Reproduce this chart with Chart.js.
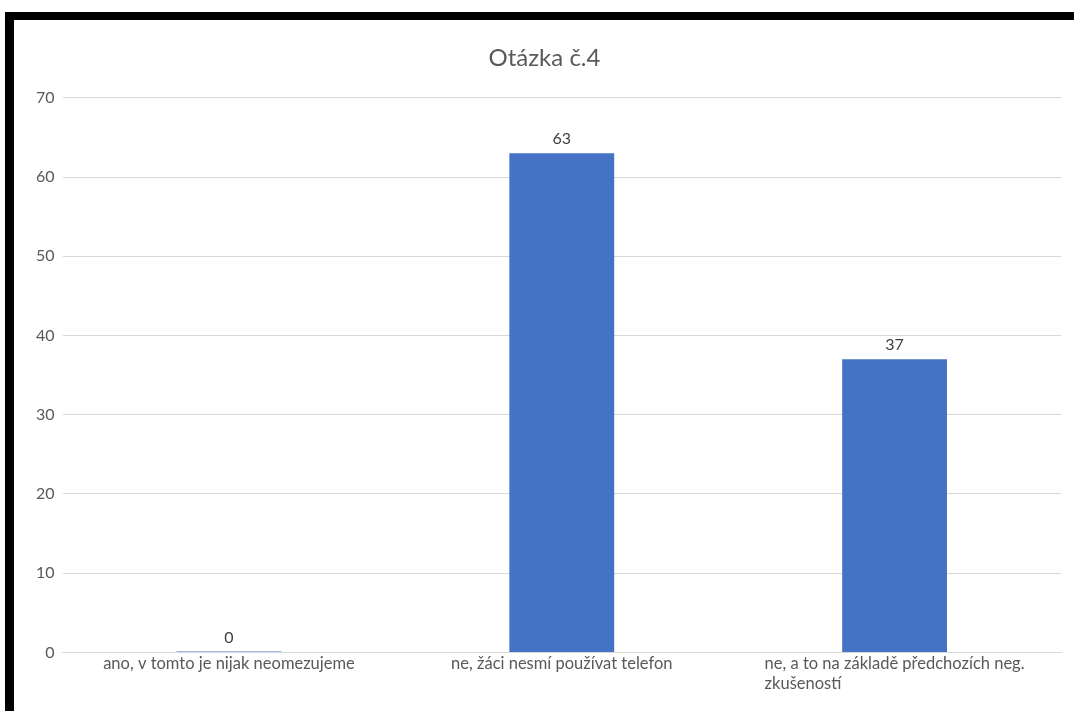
<!DOCTYPE html>
<html>
<head>
<meta charset="utf-8">
<script src="https://cdn.jsdelivr.net/npm/chart.js@4"></script>
<style>
html,body{margin:0;padding:0;background:#fff;width:1074px;height:711px;overflow:hidden;}
#topbar{position:absolute;left:5px;top:12px;width:1069px;height:8px;background:#000;}
#leftbar{position:absolute;left:5px;top:12px;width:9px;height:699px;background:#000;}
#wrap{position:absolute;left:14px;top:20px;width:1060px;height:691px;}
</style>
</head>
<body>
<div id="topbar"></div>
<div id="leftbar"></div>
<div id="wrap"><canvas id="c"></canvas></div>
<script>
const titleText = "Otázka č.4";
const categories = [
  "ano, v tomto je nijak neomezujeme",
  "ne, žáci nesmí používat telefon",
  ["ne, a to na základě předchozích neg.", "zkušeností"]
];
const values = [0, 63, 37];
const yMin = 0, yMax = 70, yStep = 10;

const FONT = "Lato, 'Open Sans', sans-serif";

const valueLabels = {
  id: 'valueLabels',
  afterDatasetsDraw(chart) {
    const ctx = chart.ctx;
    const meta = chart.getDatasetMeta(0);
    ctx.save();
    ctx.font = "16px " + FONT;
    ctx.fillStyle = "#404040";
    ctx.textAlign = "center";
    ctx.textBaseline = "bottom";
    meta.data.forEach((bar, i) => {
      ctx.fillText(String(values[i]), bar.x, Math.min(bar.y, bar.base) - 6);
    });
    ctx.restore();
  }
};

const xLabels = {
  id: 'xLabels',
  afterDraw(chart) {
    const ctx = chart.ctx;
    const xs = chart.scales.x;
    ctx.save();
    ctx.font = "16.5px " + FONT;
    ctx.fillStyle = "#595959";
    ctx.textBaseline = "top";
    ctx.textAlign = "left";
    categories.forEach((lab, i) => {
      const lines = Array.isArray(lab) ? lab : [lab];
      const cx = xs.getPixelForValue(i);
      const w = Math.max(...lines.map(l => ctx.measureText(l).width));
      lines.forEach((l, j) => {
        ctx.fillText(l, cx - w / 2, xs.top + 3 + j * 20);
      });
    });
    ctx.restore();
  }
};

new Chart(document.getElementById('c'), {
  type: 'bar',
  data: {
    labels: categories,
    datasets: [{
      data: values,
      backgroundColor: '#4472c4',
      borderWidth: 0,
      minBarLength: 1,
      categoryPercentage: 1,
      barPercentage: 0.315
    }]
  },
  options: {
    responsive: true,
    maintainAspectRatio: false,
    animation: false,
    layout: { padding: { left: 14, right: 13, top: 10, bottom: 11 } },
    plugins: {
      legend: { display: false },
      tooltip: { enabled: false },
      title: {
        display: true,
        text: titleText,
        color: '#595959',
        font: { family: FONT, size: 24, weight: 'normal' },
        padding: { top: 14, bottom: 25 }
      }
    },
    scales: {
      x: {
        grid: { display: false, drawTicks: false },
        border: { display: true, color: '#d9d9d9', width: 1 },
        ticks: {
          color: 'rgba(0,0,0,0)',
          font: { family: FONT, size: 16.5 },
          maxRotation: 0, autoSkip: false, padding: 4
        }
      },
      y: {
        min: yMin, max: yMax,
        grid: { color: '#d9d9d9', drawTicks: false },
        border: { display: false },
        ticks: {
          stepSize: yStep,
          color: '#595959',
          font: { family: FONT, size: 16 },
          padding: 8
        }
      }
    }
  },
  plugins: [valueLabels, xLabels]
});
</script>
</body>
</html>
